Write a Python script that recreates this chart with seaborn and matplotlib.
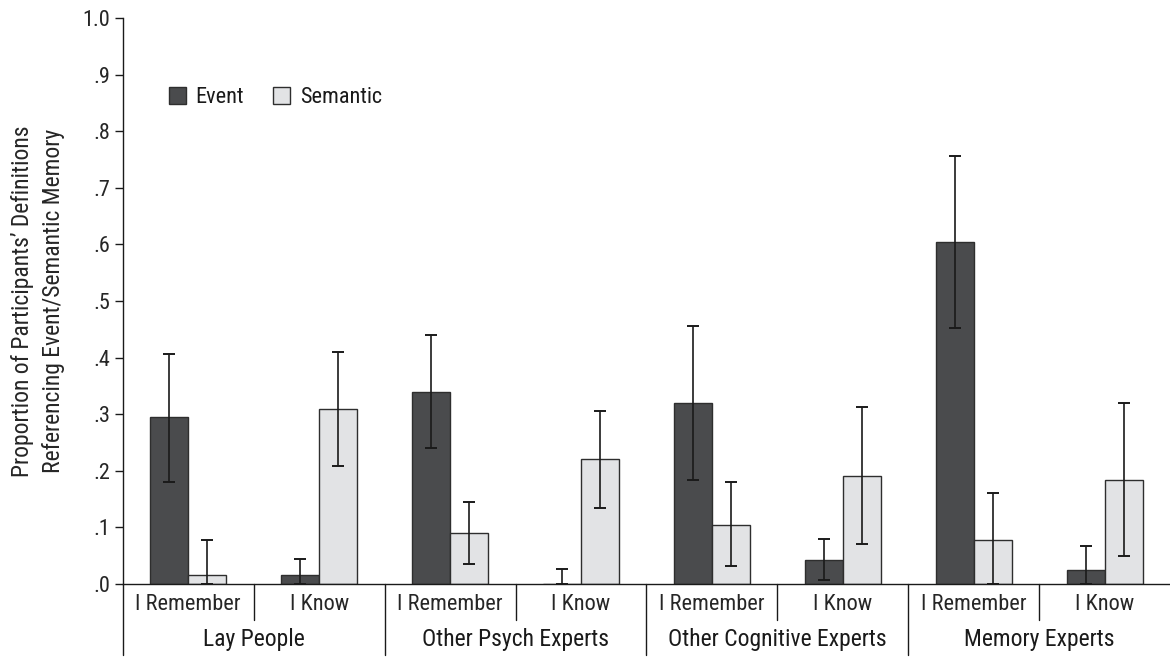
import numpy as np
import pandas as pd
import matplotlib
matplotlib.use("Agg")
import matplotlib.pyplot as plt
import matplotlib.transforms as mtransforms
from matplotlib.patches import Patch
import seaborn as sns

# Data
groups = ["Lay People", "Other Psych Experts", "Other Cognitive Experts", "Memory Experts"]
responses = ["I Remember", "I Know"]
memory_types = ["Event", "Semantic"]

# order: group x response  (8 slots)
event_vals = [0.295, 0.015, 0.340, 0.000, 0.320, 0.043, 0.605, 0.025]
event_lo = [0.180, 0.000, 0.240, 0.000, 0.183, 0.007, 0.453, 0.000]
event_hi = [0.407, 0.045, 0.440, 0.027, 0.455, 0.079, 0.757, 0.067]

semantic_vals = [0.015, 0.310, 0.090, 0.220, 0.105, 0.191, 0.078, 0.183]
semantic_lo = [0.000, 0.208, 0.035, 0.135, 0.032, 0.070, 0.000, 0.049]
semantic_hi = [0.077, 0.410, 0.145, 0.305, 0.180, 0.313, 0.161, 0.319]

colors = {"Event": "#4a4b4d", "Semantic": "#e2e3e5"}
edge = "#2e2e2e"
FS = 16

slots = [f"{g}|{r}" for g in groups for r in responses]
df = pd.DataFrame({
    "slot": slots * 2,
    "memory": ["Event"] * 8 + ["Semantic"] * 8,
    "value": event_vals + semantic_vals,
})

sns.set_style("white")
plt.rcParams["font.family"] = ["Liberation Sans Narrow", "Roboto Condensed", "Archivo Narrow",
                               "Liberation Sans", "DejaVu Sans"]
plt.rcParams["text.color"] = "#1a1a1a"

fig = plt.figure(figsize=(11.7, 6.58), dpi=100)
ax = fig.add_axes([0.105, 0.1125, 0.895, 0.8601])

sns.barplot(data=df, x="slot", y="value", hue="memory", order=slots,
            hue_order=memory_types, palette=colors, width=0.58,
            edgecolor=edge, linewidth=1.0, errorbar=None, legend=False, ax=ax)

# error bars
err = {"Event": (event_vals, event_lo, event_hi),
       "Semantic": (semantic_vals, semantic_lo, semantic_hi)}
for cont, mt in zip(ax.containers, memory_types):
    vals, lo, hi = err[mt]
    xs = [p.get_x() + p.get_width() / 2 for p in cont.patches]
    v = np.array(vals)
    yerr = np.vstack([v - np.array(lo), np.array(hi) - v])
    ax.errorbar(xs, v, yerr=yerr, fmt="none", ecolor="#1a1a1a",
                elinewidth=1.2, capsize=4, capthick=1.4, zorder=5)

ax.set_xlim(-0.5, 7.5)
ax.set_ylim(0, 1.0)
ax.set_yticks(np.arange(0, 1.01, 0.1))
ax.set_yticklabels([".0", ".1", ".2", ".3", ".4", ".5", ".6", ".7", ".8", ".9", "1.0"])
ax.tick_params(axis="y", direction="out", length=6, width=1.0, color="#1a1a1a",
               labelsize=FS, pad=3, left=True)

ax.set_xticks(range(8))
ax.set_xticklabels([s.split("|")[1] for s in slots], fontsize=FS)
ax.tick_params(axis="x", length=0, pad=7)
ax.set_xlabel("")
ax.set_ylabel("Proportion of Participants\u2019 Definitions\nReferencing Event/Semantic Memory",
              fontsize=FS + 1, labelpad=13, linespacing=1.4)

sns.despine(ax=ax, top=True, right=True)
for sp in ["left", "bottom"]:
    ax.spines[sp].set_color("#1a1a1a")
    ax.spines[sp].set_linewidth(1.0)

# hierarchical separators and group labels
trans = mtransforms.blended_transform_factory(ax.transData, ax.transAxes)
for i in range(8):
    x = i - 0.5
    y_end = -0.125 if i % 2 == 0 else -0.064
    ax.plot([x, x], [0, y_end], transform=trans, color="#1a1a1a", lw=1.0, clip_on=False)
for gi, g in enumerate(groups):
    ax.text(gi * 2 + 0.5, -0.098, g, transform=trans, ha="center", va="center", fontsize=FS + 1)

handles = [Patch(facecolor=colors[m], edgecolor=edge, linewidth=1.0, label=m) for m in memory_types]
ax.legend(handles=handles, loc="upper left", bbox_to_anchor=(0.025, 0.913), ncol=2,
          frameon=False, fontsize=FS, handlelength=0.75, handleheight=0.75,
          handletextpad=0.45, columnspacing=1.3)

fig.savefig("out.png", dpi=100)
